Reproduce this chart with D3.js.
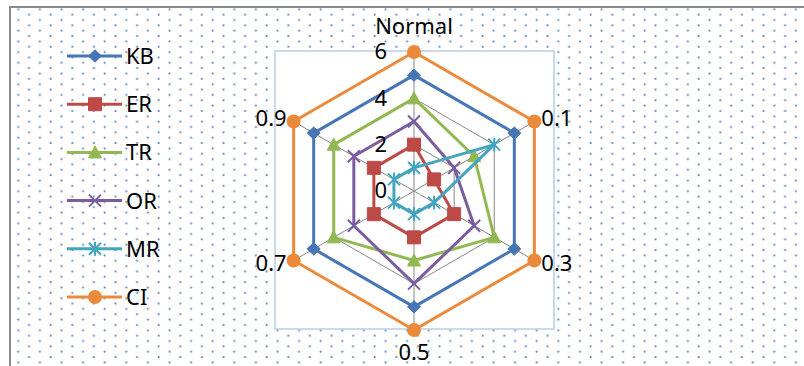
<!DOCTYPE html>
<html><head><meta charset="utf-8">
<script src="https://cdn.jsdelivr.net/npm/d3@7"></script>
<style>body{margin:0;background:#fff}svg{display:block}text{font-family:"Noto Sans","Open Sans",sans-serif;fill:#000}</style>
</head><body>
<svg id="c" width="804" height="366"></svg>
<script>
const categories = ["Normal","0.1","0.3","0.5","0.7","0.9"];
const KB = [5,5,5,5,5,5];
const ER = [2,1,2,2,2,2];
const TR = [4,3,4,3,4,4];
const OR = [3,2,3,4,3,3];
const MR = [1,4,1,1,1,1];
const CI = [6,6,6,6,6,6];
const tickValues = [0,2,4,6];
const seriesNames = ["KB","ER","TR","OR","MR","CI"];
const seriesValues = [KB,ER,TR,OR,MR,CI];
const colors = ["#4676B5","#BD4A47","#92B853","#7B5C9F","#43A5BF","#EC8A3C"];
const markers = ["diamond","square","triangle","x","star","circle"];

const FS = 22;
const svg = d3.select("#c");
const defs = svg.append("defs");
const pat = defs.append("pattern").attr("id","dots").attr("patternUnits","userSpaceOnUse")
  .attr("width",21.6).attr("height",10.7);
pat.append("rect").attr("width",21.6).attr("height",10.7).attr("fill","#fff");
pat.append("circle").attr("cx",18.3).attr("cy",9.3).attr("r",1.1).attr("fill","#5585c6");
pat.append("circle").attr("cx",7.5).attr("cy",3.95).attr("r",1.1).attr("fill","#5585c6");

// chart area
svg.append("rect").attr("x",10).attr("y",7).attr("width",820).attr("height",400)
  .attr("fill","url(#dots)").attr("stroke","#8a8a8a").attr("stroke-width",2);
// plot area
svg.append("rect").attr("x",275).attr("y",51).attr("width",279).attr("height",278)
  .attr("fill","#fff").attr("stroke","#b9cde5").attr("stroke-width",1.5);

const cx = 414, cy = 191, R = 139;
const r = d3.scaleLinear().domain([0,6]).range([0,R]);
const ang = d3.scalePoint().domain(categories).range([0, 2*Math.PI*5/6]);
const pt = (c,v) => [cx + r(v)*Math.sin(ang(c)), cy - r(v)*Math.cos(ang(c))];

const g = svg.append("g");
// gridlines
tickValues.slice(1).forEach(t=>{
  g.append("path").attr("d", d3.line()(categories.map(c=>pt(c,t))) + "Z")
    .attr("fill","none").attr("stroke","#878787").attr("stroke-width",1);
});
categories.forEach(c=>{
  g.append("line").attr("x1",cx).attr("y1",cy).attr("x2",pt(c,6)[0]).attr("y2",pt(c,6)[1])
    .attr("stroke","#878787").attr("stroke-width",1);
});

function markerPath(type, s){
  const h = s/2;
  switch(type){
    case "diamond": return `M0,${-h*0.95}L${h},0L0,${h*0.95}L${-h},0Z`;
    case "square": return `M${-h},${-h}H${h}V${h}H${-h}Z`;
    case "triangle": return `M0,${-h}L${h},${h*0.85}L${-h},${h*0.85}Z`;
    case "x": return `M${-h},${-h}L${h},${h}M${h},${-h}L${-h},${h}`;
    case "star": return `M${-h},${-h}L${h},${h}M${h},${-h}L${-h},${h}M0,${-h*1.15}V${h*1.15}`;
  }
}
function drawMarker(sel, type, color, x, y){
  if(type==="circle"){
    sel.append("circle").attr("cx",x).attr("cy",y).attr("r",7).attr("fill",color);
    return;
  }
  const size = {diamond:13,square:13,triangle:13,x:12,star:12}[type];
  const p = sel.append("path").attr("d",markerPath(type,size)).attr("transform",`translate(${x},${y})`);
  if(type==="x"||type==="star") p.attr("fill","none").attr("stroke",color).attr("stroke-width",2);
  else p.attr("fill",color).attr("stroke",color).attr("stroke-width",1);
}

seriesNames.forEach((name,i)=>{
  const vals = seriesValues[i];
  const pts = categories.map((c,j)=>pt(c,vals[j]));
  g.append("path").attr("d", d3.line()(pts)+"Z").attr("fill","none")
    .attr("stroke",colors[i]).attr("stroke-width",3).attr("stroke-linejoin","round");
  pts.forEach(p=>drawMarker(g, markers[i], colors[i], p[0], p[1]));
});

// tick labels
tickValues.forEach(t=>{
  svg.append("text").attr("x",cx-27).attr("y",cy - r(t)).attr("dy","0.34em")
    .attr("text-anchor","end").attr("font-size",FS).text(t);
});
// category labels
categories.forEach(c=>{
  const a = ang(c), sx = Math.sin(a), cyy = -Math.cos(a);
  const [px,py] = pt(c,6);
  let x, y, anchor;
  if(Math.abs(sx) < 0.01){
    x = px; anchor = "middle";
    y = cyy < 0 ? py - 18 : py + 30;
  } else {
    x = px + sx*8; anchor = sx > 0 ? "start" : "end";
    y = py + cyy*6 + 7.5;
  }
  svg.append("text").attr("x",x).attr("y",y).attr("text-anchor",anchor).attr("font-size",FS).text(c);
});

// legend
const leg = svg.append("g");
seriesNames.forEach((name,i)=>{
  const y = 56 + i*48.2;
  leg.append("line").attr("x1",67).attr("x2",122).attr("y1",y).attr("y2",y)
    .attr("stroke",colors[i]).attr("stroke-width",3);
  drawMarker(leg, markers[i], colors[i], 95, y);
  leg.append("text").attr("x",126).attr("y",y).attr("dy","0.36em").attr("font-size",FS).text(name);
});
</script>
</body></html>
